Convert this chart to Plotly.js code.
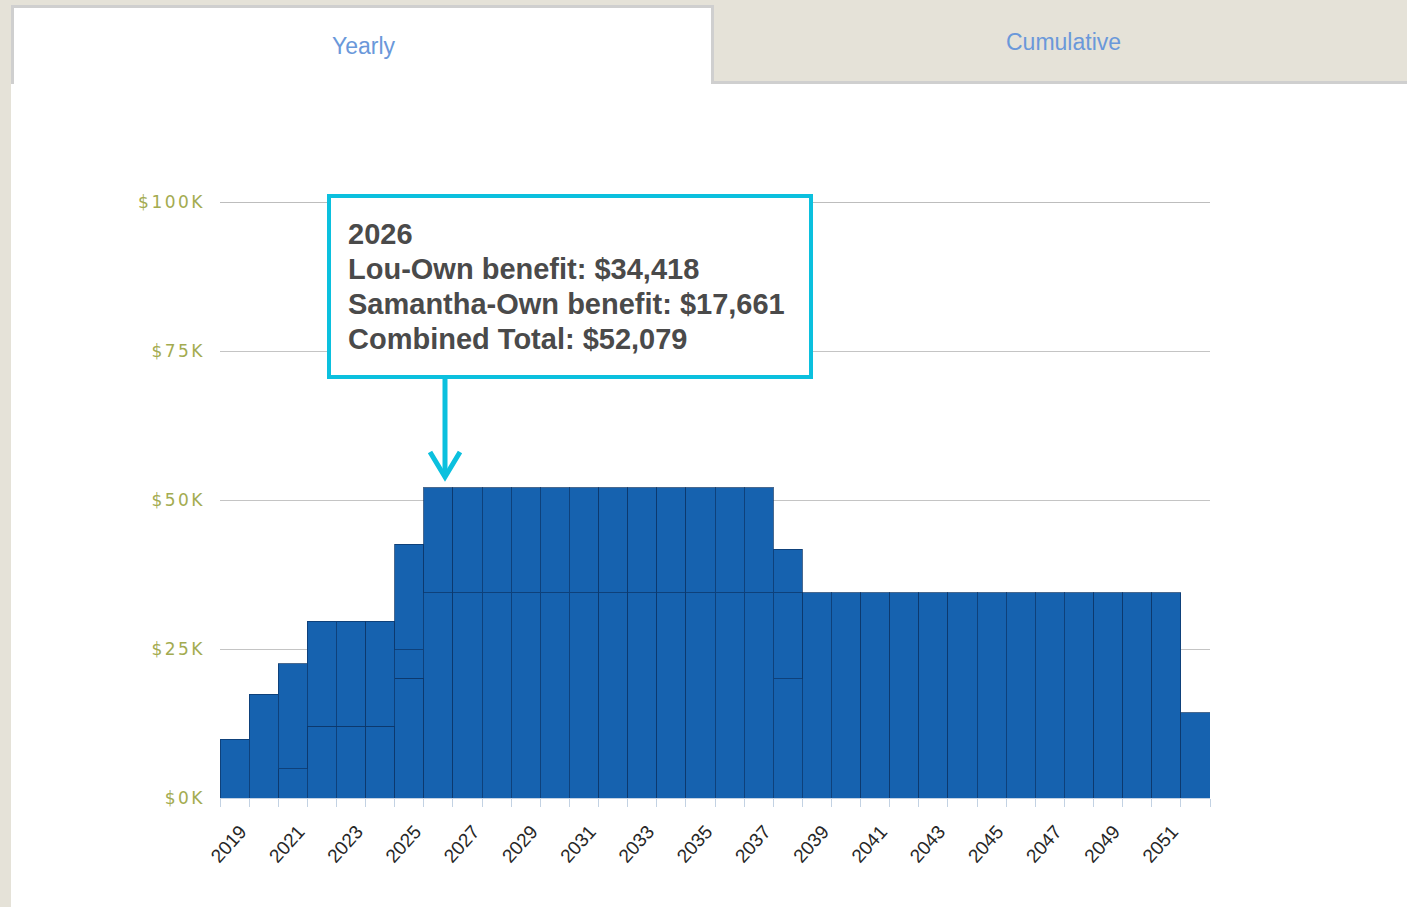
<!DOCTYPE html>
<html>
<head>
<meta charset="utf-8">
<script src="https://cdn.plot.ly/plotly-3.0.1.min.js"></script>
<style>
  html, body { margin: 0; padding: 0; background: #ffffff; }
  #chart { width: 1407px; height: 907px; }
  .yaxislayer-above .ytick text { letter-spacing: 2.5px; }
</style>
</head>
<body>
<div id="chart"></div>
<script>
// ---- data ----
const years = [2019, 2020, 2021, 2022, 2023, 2024, 2025, 2026, 2027, 2028, 2029, 2030,
               2031, 2032, 2033, 2034, 2035, 2036, 2037, 2038, 2039, 2040, 2041, 2042,
               2043, 2044, 2045, 2046, 2047, 2048, 2049, 2050, 2051, 2052];
const louOwn = [null, null, 4900, 12000, 12000, 12000, 20100, 34418, 34418, 34418, 34418, 34418,
                34418, 34418, 34418, 34418, 34418, 34418, 34418, 20000, 34418, 34418, 34418, 34418,
                34418, 34418, 34418, 34418, 34418, 34418, 34418, 34418, 34418, 14300];
const extraPart = [null, null, null, null, null, null, 4800, null, null, null, null, null,
                   null, null, null, null, null, null, null, 14418, null, null, null, null,
                   null, null, null, null, null, null, null, null, null, null];
const samanthaOwn = [9900, 17400, 17661, 17661, 17661, 17661, 17661, 17661, 17661, 17661, 17661, 17661,
                     17661, 17661, 17661, 17661, 17661, 17661, 17661, 7300, null, null, null, null,
                     null, null, null, null, null, null, null, null, null, null];
const xTickYears = [2019, 2021, 2023, 2025, 2027, 2029, 2031, 2033, 2035, 2037, 2039, 2041,
                    2043, 2045, 2047, 2049, 2051];
const xTickText = ["2019", "2021", "2023", "2025", "2027", "2029", "2031", "2033", "2035", "2037",
                   "2039", "2041", "2043", "2045", "2047", "2049", "2051"];
const yTickVals = [0, 25000, 50000, 75000, 100000];
const yTickText = ["$0K", "$25K", "$50K", "$75K", "$100K"];
const tabLabels = ["Yearly", "Cumulative"];
const tooltipYear = 2026;

// ---- geometry helpers (pixel -> paper) ----
const W = 1407, H = 907;
const L = 220, R = 1210, T = 202, B = 798;
const px = v => (v - L) / (R - L);
const py = v => (B - v) / (B - T);

const barColor = '#1662AF';
const barLine = 'rgba(12,55,105,0.75)';
function barTrace(name, vals) {
  return {
    type: 'bar', name: name, x: years, y: vals,
    marker: { color: barColor, line: { color: barLine, width: 1 } },
    hoverinfo: 'skip', showlegend: false
  };
}
const traces = [
  barTrace('Lou-Own benefit', louOwn),
  barTrace('Other benefit', extraPart),
  barTrace('Samantha-Own benefit', samanthaOwn)
];

const i = years.indexOf(tooltipYear);
const lv = louOwn[i] || 0, sv = samanthaOwn[i] || 0, ev = extraPart[i] || 0;
const fmt = v => '$' + v.toLocaleString('en-US');
const tipLines = [
  String(tooltipYear),
  'Lou-Own benefit: ' + fmt(lv),
  'Samantha-Own benefit: ' + fmt(sv),
  'Combined Total: ' + fmt(lv + sv + ev)
];
const tipLineY = [234, 269, 304, 339];

const beige = '#E5E2D8';
const tabBorder = '#CFCFCF';
const cyan = '#0BC0DE';

const shapes = [
  { type: 'rect', xref: 'paper', yref: 'paper', x0: px(0), x1: px(11), y0: py(907), y1: py(0), fillcolor: beige, line: { width: 0 }, layer: 'below' },
  { type: 'rect', xref: 'paper', yref: 'paper', x0: px(0), x1: px(1407), y0: py(5), y1: py(0), fillcolor: beige, line: { width: 0 }, layer: 'below' },
  { type: 'rect', xref: 'paper', yref: 'paper', x0: px(713), x1: px(1407), y0: py(81), y1: py(0), fillcolor: beige, line: { width: 0 }, layer: 'below' },
  { type: 'line', xref: 'paper', yref: 'paper', x0: px(712), x1: px(1407), y0: py(82.5), y1: py(82.5), line: { color: tabBorder, width: 3 }, layer: 'below' },
  { type: 'line', xref: 'paper', yref: 'paper', x0: px(12.5), x1: px(12.5), y0: py(6), y1: py(84), line: { color: tabBorder, width: 3 }, layer: 'below' },
  { type: 'line', xref: 'paper', yref: 'paper', x0: px(11), x1: px(714), y0: py(6.5), y1: py(6.5), line: { color: tabBorder, width: 3 }, layer: 'below' },
  { type: 'line', xref: 'paper', yref: 'paper', x0: px(712.5), x1: px(712.5), y0: py(5), y1: py(84), line: { color: tabBorder, width: 3 }, layer: 'below' },
  // top gridline at the range maximum
  { type: 'line', xref: 'paper', yref: 'paper', x0: 0, x1: 1, y0: py(202.5), y1: py(202.5),
    line: { color: '#BDBDBD', width: 1.2 }, layer: 'below' },
  // tooltip box
  { type: 'rect', xref: 'paper', yref: 'paper', x0: px(329), x1: px(811), y0: py(377), y1: py(196),
    fillcolor: '#ffffff', line: { color: cyan, width: 4 }, layer: 'above' },
  // tooltip arrow
  { type: 'path', xref: 'paper', yref: 'paper',
    path: 'M ' + px(445) + ' ' + py(379) + ' L ' + px(445) + ' ' + py(477),
    line: { color: cyan, width: 5 }, layer: 'above' },
  { type: 'path', xref: 'paper', yref: 'paper',
    path: 'M ' + px(430) + ' ' + py(452) + ' L ' + px(445) + ' ' + py(477) + ' L ' + px(460) + ' ' + py(452),
    line: { color: cyan, width: 5 }, layer: 'above' }
];

const annotations = [
  { xref: 'paper', yref: 'paper', x: px(364), y: py(46), text: tabLabels[0], showarrow: false,
    font: { family: 'Liberation Sans, Arial, sans-serif', size: 23, color: '#6A98DA' }, xanchor: 'center', yanchor: 'middle' },
  { xref: 'paper', yref: 'paper', x: px(1063), y: py(42), text: tabLabels[1], showarrow: false,
    font: { family: 'Liberation Sans, Arial, sans-serif', size: 23, color: '#6A98DA' }, xanchor: 'center', yanchor: 'middle' }
];
tipLines.forEach((t, k) => {
  annotations.push({
    xref: 'paper', yref: 'paper', x: px(347), y: py(tipLineY[k]), xanchor: 'left', yanchor: 'middle',
    text: t, showarrow: false, borderpad: 0,
    font: { family: 'Liberation Sans, Arial, sans-serif', size: 29, color: '#4A4A4A', weight: 'bold' }
  });
});

const layout = {
  width: W, height: H,
  margin: { l: L, r: W - R, t: T, b: H - B, pad: 0 },
  paper_bgcolor: '#ffffff', plot_bgcolor: '#ffffff',
  barmode: 'stack', bargap: 0,
  showlegend: false,
  xaxis: {
    type: 'linear', range: [2018.5, 2052.5], fixedrange: true,
    tickmode: 'array', tickvals: xTickYears, ticktext: xTickText,
    tickangle: -48, ticks: '', showgrid: false, zeroline: false,
    showline: true, linecolor: '#C3D2E3', linewidth: 1,
    ticklabelstandoff: 14, ticklabelshift: 6,
    tickfont: { family: 'Liberation Sans, Arial, sans-serif', size: 19, color: '#262626' },
    minor: { tick0: 2018.5, dtick: 1, ticks: 'outside', ticklen: 8, tickwidth: 1, tickcolor: '#C3D2E3', showgrid: false }
  },
  yaxis: {
    range: [0, 100000], fixedrange: true,
    tickmode: 'array', tickvals: yTickVals, ticktext: yTickText,
    ticks: '', showgrid: true, gridcolor: '#C4C4C4', gridwidth: 1, zeroline: false,
    showline: false, ticklabelstandoff: 14,
    tickfont: { family: 'DejaVu Sans, Verdana, sans-serif', size: 17, color: '#A3AB50' }
  },
  shapes: shapes,
  annotations: annotations
};

Plotly.newPlot('chart', traces, layout, { displayModeBar: false, staticPlot: true });
</script>
</body>
</html>
